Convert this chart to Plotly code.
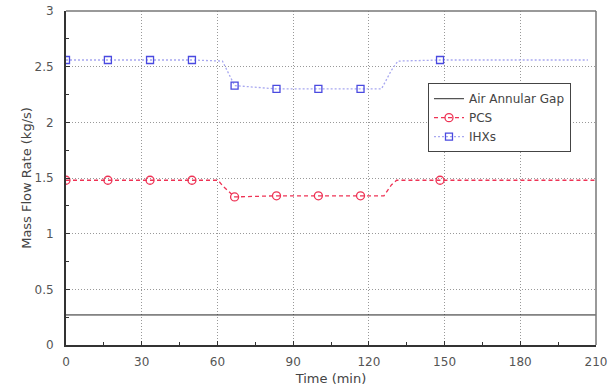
import plotly.graph_objects as go

# Air annular gap flow (constant)
gap_time = [0, 210]
gap_flow = [0.27, 0.27]

# PCS flow history
pcs_time = [0, 16.6, 33.3, 49.9, 60.2, 62.5, 66.8, 83.4, 100.0, 116.7, 126.0, 129.0, 131.0, 148.2, 210]
pcs_flow = [1.48, 1.48, 1.48, 1.48, 1.48, 1.42, 1.33, 1.34, 1.34, 1.34, 1.34, 1.44, 1.48, 1.48, 1.48]
pcs_mark_time = [0, 16.6, 33.3, 49.9, 66.8, 83.4, 100.0, 116.7, 148.2]
pcs_mark_flow = [1.48, 1.48, 1.48, 1.48, 1.33, 1.34, 1.34, 1.34, 1.48]

# IHX flow history
ihx_time = [0, 16.6, 33.3, 49.9, 62.0, 66.8, 83.4, 100.0, 116.7, 125.0, 129.0, 131.5, 148.2, 206.8]
ihx_flow = [2.56, 2.56, 2.56, 2.56, 2.55, 2.33, 2.30, 2.30, 2.30, 2.30, 2.47, 2.55, 2.56, 2.56]
ihx_mark_time = [0, 16.6, 33.3, 49.9, 66.8, 83.4, 100.0, 116.7, 148.2]
ihx_mark_flow = [2.56, 2.56, 2.56, 2.56, 2.33, 2.30, 2.30, 2.30, 2.56]

x_ticks = [0, 30, 60, 90, 120, 150, 180, 210]
y_ticks = [0, 0.5, 1, 1.5, 2, 2.5, 3]

PCS_RED = "#ee3355"
IHX_BLUE = "#4a4ae0"
IHX_LINE = "#a8a8f0"

fig = go.Figure()

# Visible curves (legend entries are added separately below)
fig.add_trace(go.Scatter(x=gap_time, y=gap_flow, mode="lines",
                         line=dict(color="#222222", width=1), showlegend=False))
fig.add_trace(go.Scatter(x=pcs_time, y=pcs_flow, mode="lines",
                         line=dict(color=PCS_RED, width=1.3, dash="4px,3px"), showlegend=False))
fig.add_trace(go.Scatter(x=pcs_mark_time, y=pcs_mark_flow, mode="markers",
                         marker=dict(symbol="circle-open", size=8, color=PCS_RED,
                                     line=dict(width=1.3)), showlegend=False))
fig.add_trace(go.Scatter(x=ihx_time, y=ihx_flow, mode="lines",
                         line=dict(color=IHX_LINE, width=1.3, dash="2px,2px"), showlegend=False))
fig.add_trace(go.Scatter(x=ihx_mark_time, y=ihx_mark_flow, mode="markers",
                         marker=dict(symbol="square-open", size=7, color=IHX_BLUE,
                                     line=dict(width=1.3)), showlegend=False))

# Legend entries
fig.add_trace(go.Scatter(x=[None], y=[None], mode="lines", name="Air Annular Gap",
                         line=dict(color="#555555", width=1.3)))
fig.add_trace(go.Scatter(x=[None], y=[None], mode="lines+markers", name="PCS",
                         line=dict(color=PCS_RED, width=1.3, dash="4px,3px"),
                         marker=dict(symbol="circle-open", size=8, color=PCS_RED,
                                     line=dict(width=1.3))))
fig.add_trace(go.Scatter(x=[None], y=[None], mode="lines+markers", name="IHXs",
                         line=dict(color=IHX_LINE, width=1.3, dash="2px,2px"),
                         marker=dict(symbol="square-open", size=7, color=IHX_BLUE,
                                     line=dict(width=1.3))))

axis_font = dict(family="DejaVu Sans", size=12, color="#555555")
title_font = dict(family="DejaVu Sans", size=13, color="#444444")

fig.update_layout(
    width=613, height=386,
    margin=dict(l=66, r=17, t=11, b=41),
    paper_bgcolor="white", plot_bgcolor="white",
    font=dict(family="DejaVu Sans", size=12, color="#444444"),
    legend=dict(x=0.683, y=0.784, xanchor="left", yanchor="top",
                bgcolor="white", bordercolor="#444444", borderwidth=1,
                font=dict(family="DejaVu Sans", size=12, color="#444444"),
                itemwidth=30, tracegroupgap=0),
    xaxis=dict(range=[0, 210], tickvals=x_ticks, ticks="inside", ticklen=4,
               tickcolor="#333333", showline=True, linecolor="#333333", linewidth=2,
               showgrid=True, gridcolor="#999999", gridwidth=1, griddash="1px,2px",
               zeroline=False, tickfont=axis_font, ticklabelstandoff=5, automargin=False,
               minor=dict(dtick=15, ticks="inside", ticklen=3, tickcolor="#333333", showgrid=False),
               title=dict(text="Time (min)", font=title_font, standoff=8)),
    yaxis=dict(range=[0, 3], tickvals=y_ticks, ticks="inside", ticklen=4,
               tickcolor="#333333", showline=True, linecolor="#333333", linewidth=2,
               showgrid=True, gridcolor="#999999", gridwidth=1, griddash="1px,2px",
               zeroline=False, tickfont=axis_font, ticklabelstandoff=8, automargin=False,
               minor=dict(dtick=0.25, ticks="inside", ticklen=3, tickcolor="#333333", showgrid=False),
               title=dict(text="Mass Flow Rate (kg/s)", font=title_font, standoff=0)),
)

# Thin frame on the top and right edges
fig.add_shape(type="line", xref="paper", yref="paper", x0=0, x1=1, y0=1, y1=1,
              line=dict(color="#777777", width=1.5))
fig.add_shape(type="line", xref="paper", yref="paper", x0=1, x1=1, y0=0, y1=1,
              line=dict(color="#777777", width=1.5))

fig.write_html("out.html")
